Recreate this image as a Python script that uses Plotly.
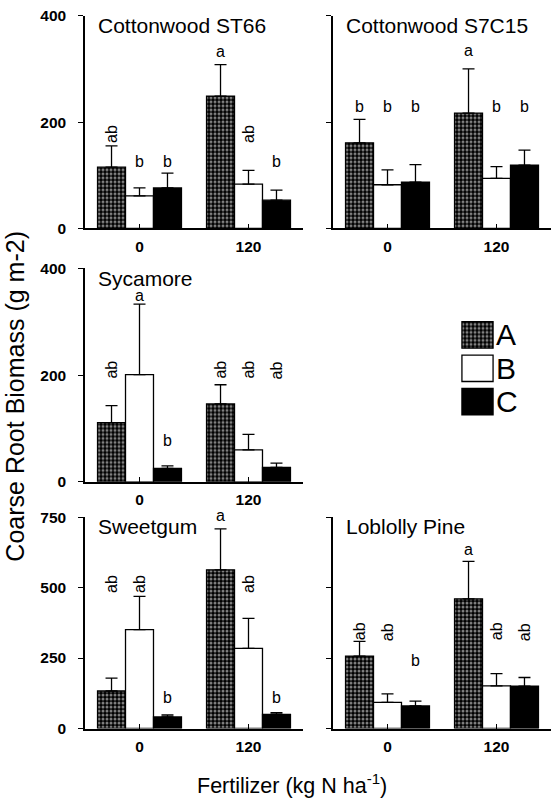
import plotly.graph_objects as go

# ---------------- data ----------------
fertilizer = ["0", "120"]
series = ["A", "B", "C"]
panel_titles = ["Cottonwood ST66", "Cottonwood S7C15", "Sycamore", "Sweetgum", "Loblolly Pine"]
y_max = [400, 400, 400, 750, 750]
y_ticks = [[0, 200, 400], [0, 200, 400], [0, 200, 400], [0, 250, 500, 750], [0, 250, 500, 750]]

# means per series (rows A, B, C), columns = fertilizer 0, 120
st66_mean = [[115, 249], [61, 83], [76, 53]]
st66_err = [[40, 59], [15, 26], [28, 19]]
st66_letters = [["ab", "a"], ["b", "ab"], ["b", "b"]]

s7c15_mean = [[161, 217], [82, 94], [87, 119]]
s7c15_err = [[44, 83], [28, 22], [33, 28]]
s7c15_letters = [["b", "a"], ["b", "b"], ["b", "b"]]

sycamore_mean = [[111, 146], [201, 60], [25, 27]]
sycamore_err = [[32, 36], [132, 29], [5, 8]]
sycamore_letters = [["ab", "ab"], ["a", "ab"], ["b", "ab"]]

sweetgum_mean = [[133, 563], [351, 284], [41, 50]]
sweetgum_err = [[46, 145], [118, 107], [7, 6]]
sweetgum_letters = [["ab", "a"], ["ab", "ab"], ["b", "b"]]

loblolly_mean = [[257, 460], [93, 151], [80, 150]]
loblolly_err = [[52, 133], [30, 44], [17, 31]]
loblolly_letters = [["ab", "a"], ["ab", "ab"], ["b", "ab"]]

means = [st66_mean, s7c15_mean, sycamore_mean, sweetgum_mean, loblolly_mean]
errs = [st66_err, s7c15_err, sycamore_err, sweetgum_err, loblolly_err]
letters = [st66_letters, s7c15_letters, sycamore_letters, sweetgum_letters, loblolly_letters]

# ---------------- layout / placement ----------------
# height (data units) of the bottom of each significance letter
letter_pos = [
    [[160, 321], [114, 160], [114, 114]],
    [[217, 322], [217, 217], [217, 217]],
    [[193, 193], [337, 193], [66, 193]],
    [[480, 733], [480, 480], [87, 87]],
    [[312, 612], [312, 312], [217, 312]],
]

W, H = 554, 807
FONT = "Liberation Sans, Arial, Helvetica, sans-serif"
BARGAP = 0.23


def xd(a, b):
    return [a / W, b / W]


def yd(top, bottom):
    return [1 - bottom / H, 1 - top / H]


panel_boxes = [
    (85, 303, 7, 224),
    (333, 551, 7, 224),
    (85, 303, 265, 483),
    (85, 303, 519, 735),
    (333, 551, 519, 735),
]

styles = {
    "A": dict(color="black", line=dict(color="black", width=1.3),
              pattern=dict(shape=".", fgcolor="white", bgcolor="black", size=4, solidity=0.45)),
    "B": dict(color="white", line=dict(color="black", width=1.3)),
    "C": dict(color="black", line=dict(color="black", width=1.3)),
}

fig = go.Figure()
annotations = []
layout_axes = {}

for p in range(5):
    sfx = "" if p == 0 else str(p + 1)
    xa, ya = "x" + sfx, "y" + sfx
    for s, name in enumerate(series):
        fig.add_trace(go.Bar(
            x=fertilizer, y=means[p][s], name=name, xaxis=xa, yaxis=ya,
            marker=styles[name], showlegend=False, offsetgroup=name,
            error_y=dict(type="data", symmetric=False, array=errs[p][s],
                         arrayminus=[0, 0], color="black", thickness=1.3, width=6),
        ))
    x0, x1, t, b = panel_boxes[p]
    layout_axes["xaxis" + sfx] = dict(
        domain=xd(x0, x1), anchor=ya, type="category", range=[-0.5, 1.5],
        showline=True, linecolor="black", linewidth=1.5, ticks="inside", ticklen=5,
        tickwidth=1.3, tickcolor="black", showgrid=False, zeroline=False,
        tickfont=dict(family=FONT, size=15.5, color="black", weight="bold"),
        ticklabelstandoff=3,
    )
    layout_axes["yaxis" + sfx] = dict(
        domain=yd(t, b), anchor=xa, range=[0, y_max[p]], tickvals=y_ticks[p],
        showline=True, linecolor="black", linewidth=1.5, ticks="outside", ticklen=5,
        tickwidth=1.3, tickcolor="black", showgrid=False, zeroline=False,
        showticklabels=(x0 < 100),
        tickfont=dict(family=FONT, size=15.5, color="black", weight="bold"),
        ticklabelstandoff=9,
    )
    # panel title
    annotations.append(dict(
        text=panel_titles[p], xref=xa + " domain", yref=ya + " domain",
        x=11 / (x1 - x0), y=1 - 10 / (b - t), xanchor="left", yanchor="middle",
        showarrow=False, font=dict(family=FONT, size=21, color="black"),
    ))
    # significance letters
    bw = (1 - BARGAP) / 3
    px_per_unit = (b - t) / y_max[p]
    for s in range(3):
        for g in range(2):
            txt = letters[p][s][g]
            xcat = g + (s - 1) * bw
            if len(txt) > 1:
                # rotated label: paper-referenced (rotation renders reliably this way)
                px_x = x0 + (xcat + 0.5) / 2.0 * (x1 - x0)
                px_y = b - letter_pos[p][s][g] * px_per_unit - 9
                annotations.append(dict(
                    text=txt, xref="paper", yref="paper",
                    x=px_x / W, y=1 - px_y / H,
                    xanchor="center", yanchor="middle", textangle=-90, showarrow=False,
                    font=dict(family=FONT, size=16, color="black"),
                ))
            else:
                annotations.append(dict(
                    text=txt, xref=xa, yref=ya, x=xcat, y=letter_pos[p][s][g],
                    xanchor="center", yanchor="bottom", yshift=-4, showarrow=False,
                    font=dict(family=FONT, size=16, color="black"),
                ))

# legend drawn as a mini bar chart
fig.add_trace(go.Bar(
    y=series, x=[1, 1, 1], orientation="h", xaxis="x6", yaxis="y6", showlegend=False,
    width=27 / 34,
    marker=dict(color=["black", "white", "black"], line=dict(color="black", width=1.3),
                pattern=dict(shape=[".", "", ""], fgcolor=["white", "white", "white"],
                             bgcolor=["black", "white", "black"], size=4, solidity=0.45)),
))
layout_axes["xaxis6"] = dict(domain=xd(461, 494), anchor="y6", range=[-0.03, 1.03],
                             visible=False, fixedrange=True)
layout_axes["yaxis6"] = dict(domain=yd(316, 418), anchor="x6", side="right",
                             categoryorder="array", categoryarray=["C", "B", "A"],
                             tickmode="array", tickvals=series, ticktext=series,
                             showline=False, showgrid=False, zeroline=False, ticks="",
                             tickfont=dict(family=FONT, size=30, color="black"),
                             ticklabelstandoff=1)

annotations.append(dict(
    text="Coarse Root Biomass (g m-2)", xref="paper", yref="paper",
    x=15 / W, y=1 - 396 / H, textangle=-90, showarrow=False,
    xanchor="center", yanchor="middle", font=dict(family=FONT, size=25, color="black"),
))
annotations.append(dict(
    text="Fertilizer (kg N ha<sup>-1</sup>)", xref="paper", yref="paper",
    x=292 / W, y=1 - 792 / H, showarrow=False,
    xanchor="center", yanchor="middle", font=dict(family=FONT, size=21.5, color="black"),
))

fig.update_layout(
    width=W, height=H, margin=dict(l=0, r=0, t=0, b=0),
    paper_bgcolor="white", plot_bgcolor="white",
    barmode="group", bargap=BARGAP, bargroupgap=0,
    annotations=annotations, showlegend=False,
    **layout_axes,
)

fig.write_html("out.html", config={"displayModeBar": False},
               post_script="document.body.style.margin='0';document.body.style.overflow='hidden';")
